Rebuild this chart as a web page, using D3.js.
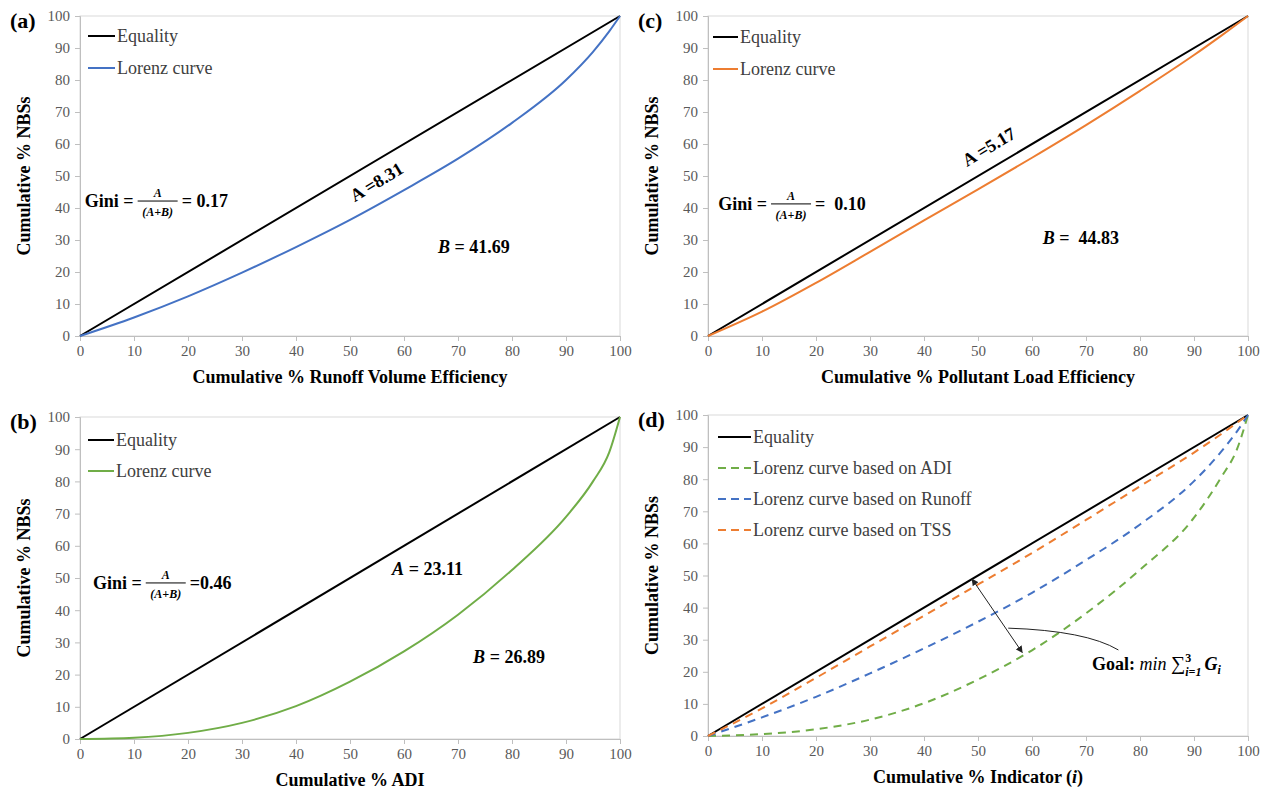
<!DOCTYPE html>
<html>
<head>
<meta charset="utf-8">
<script src="https://cdn.jsdelivr.net/npm/d3@7"></script>
<style>
  body { margin: 0; background: #fff; }
  svg { display: block; }
  svg text { font-family: "Liberation Serif", "Times New Roman", "DejaVu Serif", serif !important; }
  .tick text { fill: #595959; font-size: 15px; }
  .ann { font-weight: bold; font-size: 18px; fill: #000; }
</style>
</head>
<body>
<svg id="chart" width="1267" height="789" font-family="Liberation Serif, DejaVu Serif, serif"></svg>
<script>
// cumulative % of the indicator (x) where the curves were read
const pctX = [0, 10, 20, 30, 40, 50, 60, 70, 80, 90, 95, 98, 100];
const equalityX = [0, 100];
const equalityY = [0, 100];

// Lorenz curves, cumulative % NBSs
const runoffLorenz = [0, 5.8, 12.4, 19.8, 27.8, 36.3, 45.6, 55.4, 66.6, 80.0, 88.8, 95.2, 100];
const adiLorenz = [0, 0.4, 1.9, 5.0, 10.2, 17.8, 27.2, 38.6, 52.5, 69.0, 80.0, 89.0, 100];
const tssLorenz = [0, 7.6, 16.6, 26.3, 36.1, 45.8, 55.7, 65.9, 76.6, 87.8, 93.8, 97.5, 100];
// panel (d) versions
const adiLorenzD = [0, 0.6, 2.1, 5.1, 10.2, 17.6, 26.7, 38.2, 51.8, 68.0, 80.5, 89.5, 100];
const runoffLorenzD = [0, 5.8, 12.2, 19.5, 27.3, 35.6, 44.6, 54.8, 65.9, 79.4, 88.5, 95.0, 100];
const tssLorenzD = [0, 8.6, 18.1, 27.9, 37.5, 47.2, 57.0, 67.3, 77.8, 88.3, 94.0, 97.6, 100];

const axisTicks = [0, 10, 20, 30, 40, 50, 60, 70, 80, 90, 100];

const colBlue = "#4472C4", colOrange = "#ED7D31", colGreen = "#70AD47";

const svg = d3.select("#chart");

function panel(opt) {
  const g = svg.append("g");
  const x = d3.scaleLinear().domain([0, 100]).range([opt.left, opt.right]);
  const y = d3.scaleLinear().domain([0, 100]).range([opt.bottom, opt.top]);

  // plot border
  g.append("rect")
    .attr("x", opt.left).attr("y", opt.top)
    .attr("width", opt.right - opt.left).attr("height", opt.bottom - opt.top)
    .attr("fill", "none").attr("stroke", "#d9d9d9").attr("stroke-width", 1);

  const xa = g.append("g").attr("transform", `translate(0,${opt.bottom})`)
    .call(d3.axisBottom(x).tickValues(axisTicks).tickSize(5).tickPadding(4));
  const ya = g.append("g").attr("transform", `translate(${opt.left},0)`)
    .call(d3.axisLeft(y).tickValues(axisTicks).tickSize(5).tickPadding(5));
  [xa, ya].forEach(a => {
    a.attr("font-family", null);
    a.select(".domain").attr("stroke", "#bfbfbf");
    a.selectAll(".tick line").attr("stroke", "#bfbfbf");
  });

  // lines
  const line = d3.line().x(d => x(d[0])).y(d => y(d[1])).curve(d3.curveMonotoneX);
  opt.series.forEach(s => {
    g.append("path")
      .datum(s.xs.map((v, i) => [v, s.ys[i]]))
      .attr("d", line)
      .attr("fill", "none")
      .attr("stroke", s.color)
      .attr("stroke-width", 2)
      .attr("stroke-dasharray", s.dash ? "8,6" : null);
  });

  // legend
  opt.series.forEach((s, i) => {
    const ly = opt.legendY + i * opt.legendGap;
    g.append("line")
      .attr("x1", opt.legendX).attr("x2", opt.legendX + opt.legendLen)
      .attr("y1", ly).attr("y2", ly)
      .attr("stroke", s.color).attr("stroke-width", 2)
      .attr("stroke-dasharray", s.dash ? "8,5" : null);
    g.append("text")
      .attr("x", opt.legendX + opt.legendLen + 2).attr("y", ly + 6)
      .attr("font-size", 18).attr("fill", "#404040")
      .text(s.name);
  });

  // axis titles
  const xt = g.append("text")
    .attr("x", (opt.left + opt.right) / 2).attr("y", opt.bottom + 47)
    .attr("text-anchor", "middle").attr("font-weight", "bold").attr("font-size", 18);
  opt.xTitle.forEach(p => xt.append("tspan").attr("font-style", p.italic ? "italic" : null).text(p.t));

  g.append("text")
    .attr("transform", `translate(${opt.left - 50},${(opt.top + opt.bottom) / 2}) rotate(-90)`)
    .attr("text-anchor", "middle").attr("font-weight", "bold").attr("font-size", 18)
    .text("Cumulative % NBSs");

  // panel letter
  g.append("text")
    .attr("x", opt.left - 70).attr("y", opt.top + 12)
    .attr("font-weight", "bold").attr("font-size", 22)
    .text(opt.letter);

  return { g, x, y };
}

function gini(p, gx, gy, val) {
  const px = p.x(gx), py = p.y(gy);
  const t = p.g.append("text").attr("class", "ann").attr("x", px).attr("y", py).text("Gini =");
  const cx = px + t.node().getComputedTextLength() + 4;
  const fw = 40;
  p.g.append("line").attr("x1", cx).attr("x2", cx + fw)
    .attr("y1", py - 6).attr("y2", py - 6).attr("stroke", "#000").attr("stroke-width", 1);
  p.g.append("text").attr("x", cx + fw / 2).attr("y", py - 10)
    .attr("text-anchor", "middle").attr("font-size", 12).attr("font-weight", "bold").attr("font-style", "italic")
    .text("A");
  p.g.append("text").attr("x", cx + fw / 2).attr("y", py + 9)
    .attr("text-anchor", "middle").attr("font-size", 12).attr("font-weight", "bold").attr("font-style", "italic")
    .text("(A+B)");
  p.g.append("text").attr("class", "ann").attr("x", cx + fw + 4).attr("y", py)
    .attr("xml:space", "preserve").text(val);
}

function label(p, lx, ly, letter, italic, val, angle) {
  const t = p.g.append("text").attr("class", "ann")
    .attr("xml:space", "preserve")
    .attr("transform", `translate(${p.x(lx)},${p.y(ly)}) rotate(${angle || 0})`)
    .attr("text-anchor", angle ? "middle" : "start");
  t.append("tspan").attr("font-style", italic ? "italic" : null).text(letter);
  t.append("tspan").text(val);
}

// (a)
const pa = panel({
  left: 80, right: 620, top: 16, bottom: 336, letter: "(a)",
  legendX: 88, legendY: 36, legendGap: 32, legendLen: 27,
  xTitle: [{ t: "Cumulative % Runoff Volume Efficiency" }],
  series: [
    { name: "Equality", xs: equalityX, ys: equalityY, color: "#000" },
    { name: "Lorenz curve", xs: pctX, ys: runoffLorenz, color: colBlue }
  ]
});
gini(pa, 0.9, 40.3, "= 0.17");
label(pa, 55.5, 46.5, "A", false, " =8.31", -31);
label(pa, 66.3, 25.9, "B", true, " = 41.69");

// (c)
const pc = panel({
  left: 708, right: 1248, top: 16, bottom: 336, letter: "(c)",
  legendX: 713, legendY: 37, legendGap: 32, legendLen: 25,
  xTitle: [{ t: "Cumulative % Pollutant Load Efficiency" }],
  series: [
    { name: "Equality", xs: equalityX, ys: equalityY, color: "#000" },
    { name: "Lorenz curve", xs: pctX, ys: tssLorenz, color: colOrange }
  ]
});
gini(pc, 1.9, 39.4, "=  0.10");
label(pc, 52.6, 57.5, "A", false, " =5.17", -31);
label(pc, 62.0, 28.8, "B", true, " =  44.83");

// (b)
const pb = panel({
  left: 80, right: 620, top: 417, bottom: 739, letter: "(b)",
  legendX: 88, legendY: 440, legendGap: 31, legendLen: 26,
  xTitle: [{ t: "Cumulative % ADI" }],
  series: [
    { name: "Equality", xs: equalityX, ys: equalityY, color: "#000" },
    { name: "Lorenz curve", xs: pctX, ys: adiLorenz, color: colGreen }
  ]
});
gini(pb, 2.4, 46.6, "=0.46");
label(pb, 57.8, 50.9, "A", true, " = 23.11");
label(pb, 72.8, 23.6, "B", true, " = 26.89");

// (d)
const pd = panel({
  left: 708, right: 1248, top: 415, bottom: 736, letter: "(d)",
  legendX: 718, legendY: 437, legendGap: 31, legendLen: 33,
  xTitle: [{ t: "Cumulative % Indicator (" }, { t: "i", italic: true }, { t: ")" }],
  series: [
    { name: "Equality", xs: equalityX, ys: equalityY, color: "#000" },
    { name: "Lorenz curve based on ADI", xs: pctX, ys: adiLorenzD, color: colGreen, dash: true },
    { name: "Lorenz curve based on Runoff", xs: pctX, ys: runoffLorenzD, color: colBlue, dash: true },
    { name: "Lorenz curve based on TSS", xs: pctX, ys: tssLorenzD, color: colOrange, dash: true }
  ]
});

// double-headed arrow between equality line and ADI curve
const arrowFrom = [48.9, 48.9], arrowTo = [58.2, 26.0];
const defs = svg.append("defs");
defs.append("marker").attr("id", "ah").attr("viewBox", "0 0 10 10")
  .attr("refX", 9).attr("refY", 5).attr("markerWidth", 7).attr("markerHeight", 7)
  .attr("orient", "auto-start-reverse")
  .append("path").attr("d", "M0,0 L10,5 L0,10 z").attr("fill", "#222");
pd.g.append("line")
  .attr("x1", pd.x(arrowFrom[0])).attr("y1", pd.y(arrowFrom[1]))
  .attr("x2", pd.x(arrowTo[0])).attr("y2", pd.y(arrowTo[1]))
  .attr("stroke", "#222").attr("stroke-width", 1)
  .attr("marker-start", "url(#ah)").attr("marker-end", "url(#ah)");

// curved leader to the goal text
const leader = [[55.6, 33.6], [70.0, 32.8], [76.0, 26.8]];
const lp = d3.path();
lp.moveTo(pd.x(leader[0][0]), pd.y(leader[0][1]));
lp.quadraticCurveTo(pd.x(leader[1][0]), pd.y(leader[1][1]), pd.x(leader[2][0]), pd.y(leader[2][1]));
pd.g.append("path").attr("d", lp.toString()).attr("fill", "none").attr("stroke", "#222").attr("stroke-width", 1);

const goal = pd.g.append("text").attr("class", "ann")
  .attr("x", pd.x(71.1)).attr("y", pd.y(20.6)).attr("xml:space", "preserve");
goal.append("tspan").text("Goal: ");
goal.append("tspan").attr("font-weight", "normal").attr("font-style", "italic").text("min ");
goal.append("tspan").attr("font-weight", "normal").attr("font-size", 20).text("\u2211");
goal.append("tspan").attr("font-size", 12).attr("dy", -8).text("3");
goal.append("tspan").attr("font-size", 12).attr("font-style", "italic").attr("dx", -6).attr("dy", 14).text("i=1");
goal.append("tspan").attr("dy", -6).attr("dx", 3).attr("font-style", "italic").text("G");
goal.append("tspan").attr("font-size", 12).attr("font-style", "italic").attr("dy", 4).text("i");
</script>
</body>
</html>
